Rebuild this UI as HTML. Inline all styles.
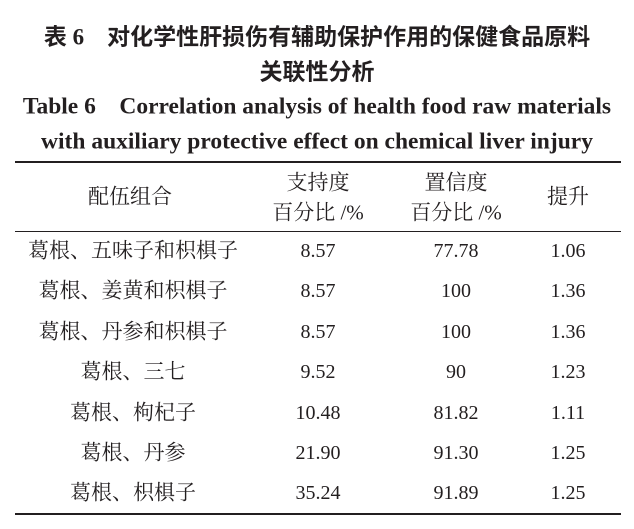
<!DOCTYPE html>
<html><head><meta charset="utf-8">
<style>
body{margin:0;width:634px;height:529px;background:#fff;position:relative;overflow:hidden;color:#231f20}
.t{position:absolute;white-space:nowrap;transform:translate(-50%,-50%);line-height:1}
.cn{font-family:"Liberation Serif","Noto Serif CJK SC","Noto Sans CJK SC",serif;font-size:21px}
.num{font-family:"Liberation Serif",serif;font-size:20px}
.ti{font-family:"Liberation Serif","Noto Sans CJK SC",sans-serif;font-weight:bold;font-size:23px}
.en{font-family:"Liberation Serif",serif;font-weight:bold;font-size:23.5px}
.rule{position:absolute;left:15px;width:606px;background:#231f20}
</style></head><body>
<div class="t ti" style="left:317px;top:37px">表 6　对化学性肝损伤有辅助保护作用的保健食品原料</div>
<div class="t ti" style="left:317px;top:72px">关联性分析</div>
<div class="t en" style="left:317px;top:107px">Table 6　Correlation analysis of health food raw materials</div>
<div class="t en" style="left:317px;top:142px">with auxiliary protective effect on chemical liver injury</div>
<div class="rule" style="top:161px;height:2px"></div>
<div class="rule" style="top:231px;height:1px"></div>
<div class="rule" style="top:513px;height:2px"></div>
<div class="t cn" style="left:130px;top:197px">配伍组合</div>
<div class="t cn" style="left:318px;top:183px">支持度</div>
<div class="t cn" style="left:318px;top:213px">百分比 /%</div>
<div class="t cn" style="left:456px;top:183px">置信度</div>
<div class="t cn" style="left:456px;top:213px">百分比 /%</div>
<div class="t cn" style="left:568px;top:197px">提升</div>
<div id="rows"></div>
<script>
const combos=["葛根、五味子和枳椇子","葛根、姜黄和枳椇子","葛根、丹参和枳椇子","葛根、三七","葛根、枸杞子","葛根、丹参","葛根、枳椇子"];
const support=["8.57","8.57","8.57","9.52","10.48","21.90","35.24"];
const confidence=["77.78","100","100","90","81.82","91.30","91.89"];
const lift=["1.06","1.36","1.36","1.23","1.11","1.25","1.25"];
const rows=document.getElementById('rows');
function cell(txt,x,y,cls,name){
  const d=document.createElement('div');
  d.className='t '+cls;
  d.style.left=x+'px';d.style.top=y+'px';
  d.textContent=txt;
  
  
  rows.appendChild(d);
}
combos.forEach((c,i)=>{
  const y=251+i*40.4;
  cell(c,133,y,'cn','combination-cell');
  cell(support[i],318,y,'num','support-cell');
  cell(confidence[i],456,y,'num','confidence-cell');
  cell(lift[i],568,y,'num','lift-cell');
});
</script>
</body></html>
